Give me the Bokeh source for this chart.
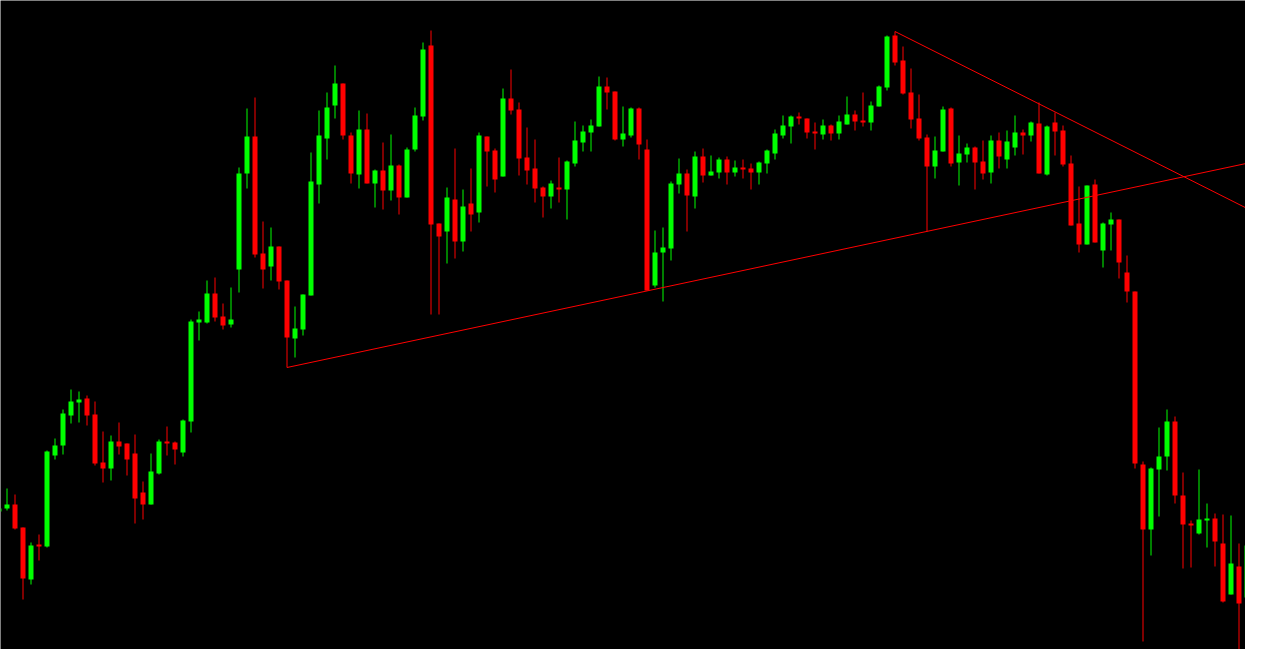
from bokeh.plotting import figure
from bokeh.models import Range1d, ColumnDataSource
from bokeh.embed import file_html
from bokeh.resources import INLINE

# ---- data (candle index, OHLC) ----
open_ = [154,157,161,138,86,121,119,210,220,250,
         263,267,251,203,197,224,222,212,173,161,
         192,224,223,213,244,343,343,372,349,341,
         396,492,529,412,399,419,385,327,336,370,
         481,527,560,582,530,491,536,482,495,475,
         500,468,516,549,620,442,434,466,424,462,
         453,529,515,489,567,556,508,497,478,469,
         478,476,502,523,533,539,579,574,526,530,
         557,516,380,413,417,481,492,469,509,490,
         493,506,493,498,497,493,502,512,530,539,
         549,547,534,531,540,532,541,551,545,543,
         559,578,630,605,573,547,528,499,514,557,
         503,511,518,504,493,525,506,518,533,530,
         542,491,543,535,502,442,421,481,415,441,
         446,393,374,201,136,196,209,244,170,142,
         132,145,147,122,71,99,68,119,126]
high = [160,177,171,138,123,131,215,227,256,276,
        274,270,264,234,230,243,222,231,184,212,
        226,239,224,246,346,354,385,388,362,378,
        498,557,568,444,438,419,385,359,371,513,
        555,573,600,582,533,555,552,496,523,531,
        501,518,558,623,635,442,478,517,476,497,
        533,529,517,577,596,563,538,526,479,485,
        508,505,544,540,546,589,588,574,559,558,
        558,526,435,438,484,507,496,514,517,510,
        508,509,505,506,502,504,516,536,550,550,
        553,547,543,546,541,550,569,555,573,564,
        580,630,634,619,597,571,531,529,559,558,
        530,522,519,525,530,533,535,550,536,544,
        563,540,553,540,510,479,480,486,443,453,
        446,410,374,204,198,238,256,249,193,145,
        196,162,152,151,150,122,129,140,172]
low = [152,155,136,66,81,105,118,206,211,242,
       243,240,200,183,185,211,190,142,146,161,
       191,210,201,209,233,325,342,344,336,338,
       373,477,408,377,385,376,298,308,330,370,
       462,506,547,526,482,477,482,458,456,465,
       451,468,514,545,351,351,402,407,414,434,
       443,479,473,489,551,490,481,463,448,457,
       463,446,499,514,514,539,556,525,519,528,
       506,375,378,364,405,472,434,457,483,490,
       487,481,489,487,476,481,492,506,527,522,
       541,527,516,526,525,526,541,535,539,535,
       559,575,600,571,537,525,434,487,514,499,
       480,503,476,486,482,497,497,510,511,524,
       492,490,510,499,440,413,421,423,398,415,
       387,363,197,24,110,149,195,162,97,98,
       131,118,99,63,71,6,42,73,125]
close = [157,161,137,87,120,119,214,220,252,264,
         266,250,202,197,224,219,206,167,161,194,
         224,222,216,245,344,346,372,348,340,346,
         492,529,411,396,419,384,328,337,371,484,
         530,558,582,530,492,536,482,495,475,500,
         468,516,550,616,441,429,468,424,459,451,
         530,514,486,567,555,507,495,477,469,482,
         476,504,525,534,540,579,573,526,532,557,
         521,375,413,418,482,492,470,509,490,494,
         506,493,498,496,493,503,515,532,540,549,
         547,533,532,540,532,544,551,544,543,560,
         579,629,603,572,546,527,499,515,556,502,
         512,518,503,492,525,509,524,533,530,543,
         492,539,534,501,440,421,480,423,442,446,
         403,374,202,136,197,209,244,170,141,140,
         146,147,124,64,102,62,120,127,170]

# trend lines (candle index, price)
support_x = [36, 160]
support_y = [298, 509]
resist_x = [112, 160]
resist_y = [634, 441]

# ---- build ----
UP = "#00ff00"
DOWN = "#ff0000"
idx = list(range(len(open_)))
colors = [UP if c > o else DOWN for o, c in zip(open_, close)]
tops, bottoms = [], []
for o, c in zip(open_, close):
    t, b = max(o, c), min(o, c)
    if t - b < 2:
        m = (t + b) / 2
        t, b = m + 1, m - 1
    tops.append(t)
    bottoms.append(b)

src = ColumnDataSource(dict(x=idx, o=open_, h=high, l=low, c=close,
                            top=tops, bottom=bottoms, color=colors))

p = figure(width=1245, height=649,
           x_range=Range1d(0.1875, 155.8125), y_range=Range1d(16, 665),
           output_backend="svg", toolbar_location=None,
           x_axis_location=None, y_axis_location=None,
           min_border=0, background_fill_color="black",
           border_fill_color="black", outline_line_color=None)
p.grid.visible = False

p.segment(x0="x", y0="l", x1="x", y1="h", line_color="color", line_width=1, source=src)
p.vbar(x="x", width=0.625, top="top", bottom="bottom",
       fill_color="color", line_color=None, source=src)

p.line(support_x, support_y, line_color="#ff0000", line_width=1)
p.line(resist_x, resist_y, line_color="#ff0000", line_width=1)

open("out.html", "w").write(file_html(p, INLINE))
